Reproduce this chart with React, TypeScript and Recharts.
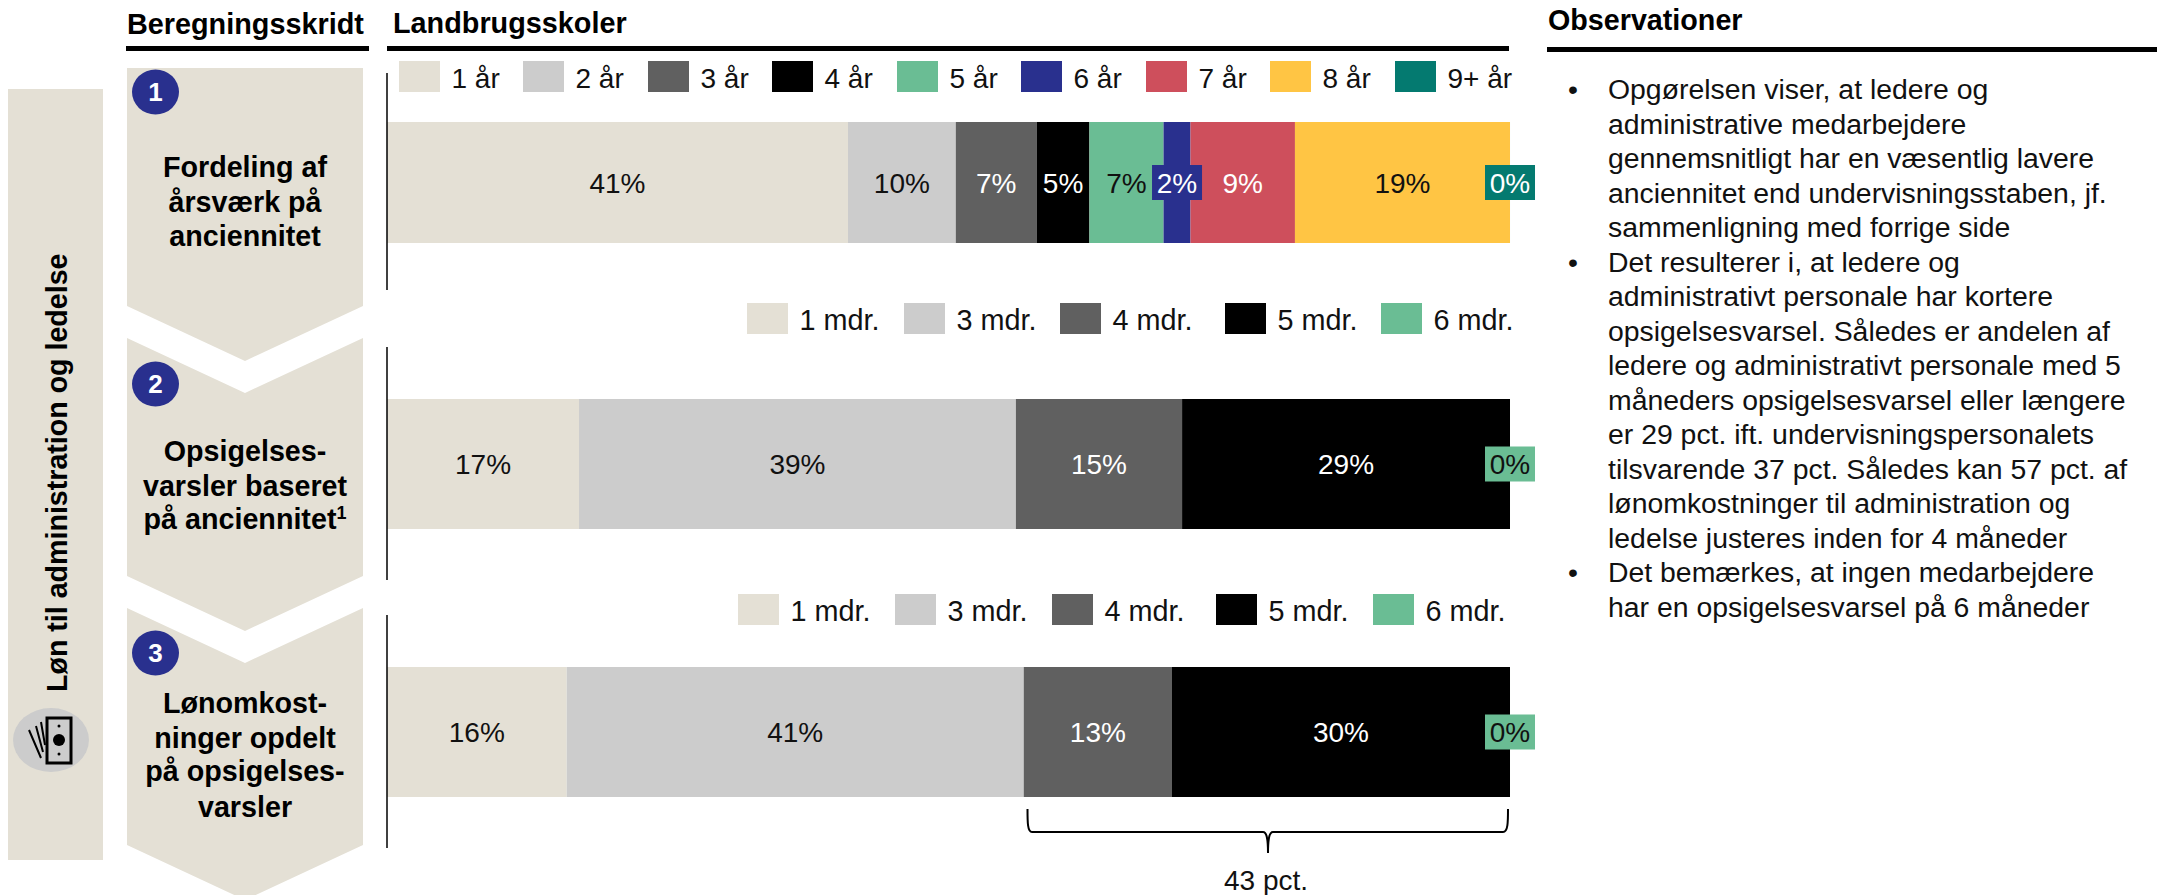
import React from "react";
import { BarChart, Bar, XAxis, YAxis, LabelList } from "recharts";

const FONT = "'Liberation Sans', Arial, sans-serif";

const yearNames = ["1 år", "2 år", "3 år", "4 år", "5 år", "6 år", "7 år", "8 år", "9+ år"];
const yearValues = [41.05, 9.6, 7.2, 4.7, 6.6, 2.4, 9.3, 19.15, 0];
const yearColors = ["#E4E0D5", "#CCCCCC", "#606060", "#000000", "#6ABD94", "#29308E", "#CE4F5C", "#FFC544", "#047A70"];
const yearText = ["#111", "#111", "#fff", "#fff", "#111", "#fff", "#fff", "#111", "#fff"];
const yearBoxed = ["6 år", "9+ år"];

const monthNames = ["1 mdr.", "3 mdr.", "4 mdr.", "5 mdr.", "6 mdr."];
const monthColors = ["#E4E0D5", "#CCCCCC", "#606060", "#000000", "#6ABD94"];
const monthText = ["#111", "#111", "#fff", "#fff", "#111"];
const monthBoxed = ["6 mdr."];
const noticeValues = [17.1, 38.9, 14.8, 29.2, 0];
const costValues = [16.0, 40.7, 13.2, 30.1, 0];

const legendYearSwatchX = [399, 523, 648, 772, 897, 1021, 1146, 1270, 1395];
const legendNoticeSwatchX = [747, 904, 1060, 1225, 1381];
const legendCostSwatchX = [738, 895, 1052, 1216, 1373];

const obsLines = [
  "Opgørelsen viser, at ledere og",
  "administrative medarbejdere",
  "gennemsnitligt har en væsentlig lavere",
  "anciennitet end undervisningsstaben, jf.",
  "sammenligning med forrige side",
  "Det resulterer i, at ledere og",
  "administrativt personale har kortere",
  "opsigelsesvarsel. Således er andelen af",
  "ledere og administrativt personale med 5",
  "måneders opsigelsesvarsel eller længere",
  "er 29 pct. ift. undervisningspersonalets",
  "tilsvarende 37 pct. Således kan 57 pct. af",
  "lønomkostninger til administration og",
  "ledelse justeres inden for 4 måneder",
  "Det bemærkes, at ingen medarbejdere",
  "har en opsigelsesvarsel på 6 måneder",
];
const obsBulletLines = [0, 5, 14];

const BEIGE = "#E4E0D5";
const NAVY = "#29308E";

function makeLabel(color: string, fill: string, boxed: boolean) {
  return (props: any) => {
    const { x, y, width, height, value } = props;
    const cx = Number(x) + Number(width) / 2;
    const cy = Number(y) + Number(height) / 2;
    return (
      <g>
        {boxed && <rect x={cx - 25} y={cy - 17.5} width={50} height={35} fill={fill} />}
        <text x={cx} y={cy + 10} textAnchor="middle" fontSize={28} fontFamily={FONT} fill={color}>
          {Math.round(Number(value))}%
        </text>
      </g>
    );
  };
}

function StackChart(p: {
  top: number; height: number; barSize: number; padTop: number;
  names: string[]; values: number[]; colors: string[]; text: string[]; boxed: string[];
}) {
  const row: any = { name: "Landbrugsskoler" };
  p.names.forEach((n, i) => { row[n] = p.values[i]; });
  const order = p.names.map((_, i) => i);
  return (
    <div style={{ position: "absolute", left: 382, top: p.top }}>
      <BarChart
        width={1158}
        height={p.height}
        data={[row]}
        layout="vertical"
        margin={{ top: 0, right: 30, bottom: 0, left: 4 }}
        barCategoryGap={0}
      >
        <XAxis type="number" domain={[0, 100]} hide />
        <YAxis
          type="category"
          dataKey="name"
          width={1}
          tick={false}
          tickLine={false}
          axisLine={{ stroke: "#000", strokeWidth: 1.5 }}
          padding={{ top: p.padTop, bottom: 0 }}
        />
        {order.map((i) => (
          <Bar key={p.names[i]} dataKey={p.names[i]} stackId="a" fill={p.colors[i]} barSize={p.barSize} minPointSize={0.01} isAnimationActive={false}>
            <LabelList
              dataKey={p.names[i]}
              content={makeLabel(p.text[i], p.colors[i], p.boxed.includes(p.names[i]))}
            />
          </Bar>
        ))}
      </BarChart>
    </div>
  );
}

function LegendRow(p: { names: string[]; colors: string[]; xs: number[]; top: number; gap: number; size: number }) {
  return (
    <g>
      {p.names.map((n, i) => (
        <g key={n}>
          <rect x={p.xs[i]} y={p.top} width={41} height={31} fill={p.colors[i]} />
          <text x={p.xs[i] + p.gap} y={p.top + 27} fontSize={p.size} fill="#111">{n}</text>
        </g>
      ))}
    </g>
  );
}

function Chevron(p: { top: number; notch: boolean; bottom: number }) {
  const L = 127, R = 363, M = 245, D = 55;
  const d = p.notch
    ? `M${L} ${p.top}L${M} ${p.top + D}L${R} ${p.top}L${R} ${p.bottom}L${M} ${p.bottom + D}L${L} ${p.bottom}Z`
    : `M${L} ${p.top}L${R} ${p.top}L${R} ${p.bottom}L${M} ${p.bottom + D}L${L} ${p.bottom}Z`;
  return <path d={d} fill={BEIGE} />;
}

function Badge(p: { y: number; n: string }) {
  return (
    <g>
      <ellipse cx={155.5} cy={p.y} rx={23.5} ry={22.5} fill={NAVY} />
      <text x={155.5} y={p.y + 9} textAnchor="middle" fontSize={26} fontWeight={700} fill="#fff">{p.n}</text>
    </g>
  );
}

function StepText(p: { lines: string[]; ys: number[] }) {
  return (
    <g fontSize={28.7} fontWeight={700} fill="#000" textAnchor="middle">
      {p.lines.map((t, i) => <text key={t} x={245} y={p.ys[i]}>{t}</text>)}
    </g>
  );
}

export default function App() {
  return (
    <div style={{ position: "absolute", left: 0, top: 0, width: 2157, height: 895, overflow: "hidden", background: "#fff", fontFamily: FONT }}>
      <svg width={2157} height={895} style={{ position: "absolute", left: 0, top: 0 }} fontFamily={FONT}>
        {/* left band */}
        <rect x={8} y={89} width={95} height={771} fill={BEIGE} />
        <text transform="translate(67 692) rotate(-90)" fontSize={28.6} fontWeight={700} fill="#000">Løn til administration og ledelse</text>
        <ellipse cx={51} cy={740} rx={38} ry={32} fill="#CCCCCC" />
        <rect x={47} y={718} width={24} height={45} fill="none" stroke="#000" strokeWidth={3} />
        <circle cx={59} cy={740} r={6} fill="#000" />
        <circle cx={59} cy={726} r={1.5} fill="#000" />
        <circle cx={59} cy={754} r={1.5} fill="#000" />
        <path d="M29 730L41 758M36 726L43 752M41 722L45 745" stroke="#000" strokeWidth={2} fill="none" />

        {/* headers */}
        <text x={127} y={34} fontSize={28.8} fontWeight={700} fill="#000">Beregningsskridt</text>
        <rect x={126} y={46} width={243} height={5} fill="#000" />
        <text x={393} y={33} fontSize={28.8} fontWeight={700} fill="#000">Landbrugsskoler</text>
        <rect x={387} y={46} width={1122} height={5} fill="#000" />
        <text x={1548} y={30} fontSize={28.7} fontWeight={700} fill="#000">Observationer</text>
        <rect x={1547} y={47} width={610} height={5} fill="#000" />

        {/* steps */}
        <Chevron top={68} notch={false} bottom={306} />
        <Chevron top={338} notch bottom={576} />
        <Chevron top={608} notch bottom={845} />
        <Badge y={92} n="1" />
        <Badge y={384} n="2" />
        <Badge y={653} n="3" />
        <StepText lines={["Fordeling af", "årsværk på", "anciennitet"]} ys={[177, 212, 246]} />
        <g fontSize={28.7} fontWeight={700} fill="#000" textAnchor="middle">
          <text x={245} y={461}>Opsigelses-</text>
          <text x={245} y={496}>varsler baseret</text>
          <text x={245} y={529}>på anciennitet<tspan fontSize={18} dy={-10}>1</tspan></text>
        </g>
        <StepText lines={["Lønomkost-", "ninger opdelt", "på opsigelses-", "varsler"]} ys={[713, 748, 781, 817]} />

        {/* legends */}
        <LegendRow names={yearNames} colors={yearColors} xs={legendYearSwatchX} top={61} gap={52.5} size={28} />
        <LegendRow names={monthNames} colors={monthColors} xs={legendNoticeSwatchX} top={303} gap={52.5} size={28.8} />
        <LegendRow names={monthNames} colors={monthColors} xs={legendCostSwatchX} top={594} gap={52.5} size={28.8} />

        {/* observations */}
        <g fontSize={28.4} fill="#111">
          {obsLines.map((t, i) => (
            <g key={t}>
              {obsBulletLines.includes(i) && <text x={1568} y={99 + 34.5 * i}>•</text>}
              <text x={1608} y={99 + 34.5 * i}>{t}</text>
            </g>
          ))}
        </g>

        {/* bracket */}
        <path
          d="M1027.5 809C1027.5 822 1027.5 832 1032 832L1263 832C1266 832 1268 836 1268 853C1268 836 1270 832 1273 832L1503 832C1508 832 1508 822 1508 809"
          fill="none" stroke="#000" strokeWidth={2}
        />
        <text x={1266} y={890} textAnchor="middle" fontSize={28} fill="#111">43 pct.</text>
      </svg>

      <StackChart top={73} height={217} barSize={121} padTop={2} names={yearNames} values={yearValues} colors={yearColors} text={yearText} boxed={yearBoxed} />
      <StackChart top={347} height={233} barSize={130} padTop={1} names={monthNames} values={noticeValues} colors={monthColors} text={monthText} boxed={monthBoxed} />
      <StackChart top={615} height={233} barSize={130} padTop={1} names={monthNames} values={costValues} colors={monthColors} text={monthText} boxed={monthBoxed} />
    </div>
  );
}
